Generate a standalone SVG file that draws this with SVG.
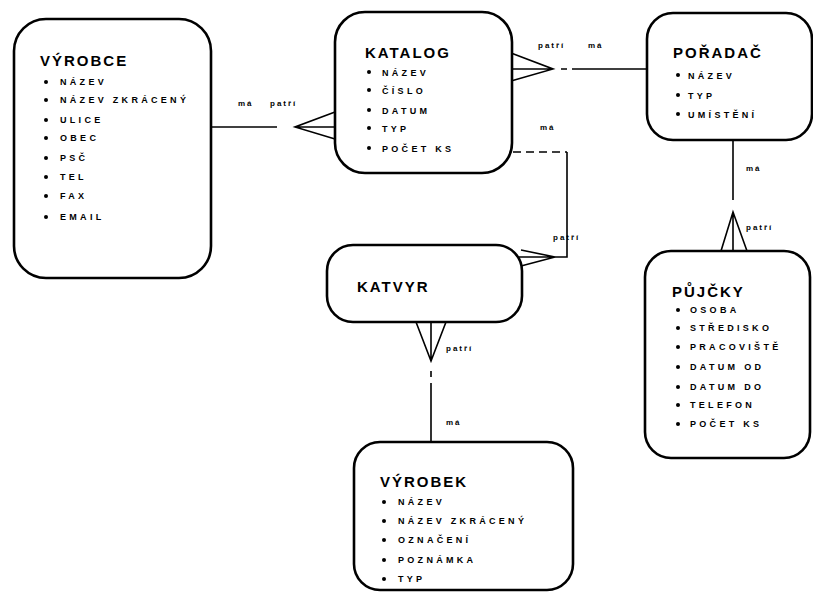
<svg xmlns="http://www.w3.org/2000/svg" xmlns:xlink="http://www.w3.org/1999/xlink" width="813" height="593" viewBox="0 0 813 593">
<style>
.box{fill:#fff;stroke:#000;stroke-width:2.6}
.ln{fill:none;stroke:#000;stroke-width:1.6}
.dash{fill:none;stroke:#000;stroke-width:1.6;stroke-dasharray:8 5}
.title{font-family:"Liberation Sans",Arial,sans-serif;font-weight:bold;font-size:15px;letter-spacing:2px;fill:#000}
.item{font-family:"Liberation Sans",Arial,sans-serif;font-weight:bold;font-size:9px;letter-spacing:3.3px;fill:#000}
.lbl{font-family:"Liberation Sans",Arial,sans-serif;font-weight:bold;font-size:8px;letter-spacing:2px;fill:#000}
</style>
<defs>
<circle id="b" r="2" fill="#000"/>
</defs>
<rect width="813" height="593" fill="#fff"/>
<g id="connectors">
<!-- VYROBCE - KATALOG -->
<line class="ln" x1="211" y1="127" x2="277" y2="127"/>
<path class="ln" d="M335,112 L295,127 L335,139 M295,127 L335,127"/>
<text class="lbl" x="238" y="106">má</text>
<text class="lbl" x="270" y="106">patří</text>
<!-- KATALOG - PORADAC -->
<path class="ln" d="M511,53 L553,69 L511,81 M511,69 L553,69"/>
<path class="ln" d="M561,69 L567,69 M572,69 L647,69"/>
<text class="lbl" x="538" y="48">patří</text>
<text class="lbl" x="588" y="48">má</text>
<!-- KATALOG - KATVYR -->
<path class="dash" d="M513,152 L567,152"/>
<path class="ln" d="M567,152 L567,257 L555,257"/>
<path class="ln" d="M521,250 L555,257 L521,266 M519,257 L555,257"/>
<text class="lbl" x="540" y="130">má</text>
<text class="lbl" x="553" y="240">patří</text>
<!-- KATVYR - VYROBEK -->
<path class="ln" d="M416,322 L431,361 L446,322 M431,322 L431,361"/>
<path class="ln" d="M431,371 L431,377 M431,383 L431,442"/>
<text class="lbl" x="446" y="351">patří</text>
<text class="lbl" x="446" y="425">má</text>
<!-- PORADAC - PUJCKY -->
<path class="ln" d="M733,140 L733,200"/>
<path class="ln" d="M721,251 L733,212 L747,251 M733,212 L733,251"/>
<text class="lbl" x="746" y="171">má</text>
<text class="lbl" x="746" y="230">patří</text>
</g>
<g id="vyrobce">
<rect class="box" x="14" y="19" width="197" height="259" rx="32"/>
<text class="title" x="40" y="66">VÝROBCE</text>
<use xlink:href="#b" x="46" y="82"/><text class="item" x="60" y="85">NÁZEV</text>
<use xlink:href="#b" x="46" y="100"/><text class="item" x="60" y="103">NÁZEV ZKRÁCENÝ</text>
<use xlink:href="#b" x="46" y="120"/><text class="item" x="60" y="123">ULICE</text>
<use xlink:href="#b" x="46" y="138"/><text class="item" x="60" y="141">OBEC</text>
<use xlink:href="#b" x="46" y="158"/><text class="item" x="60" y="161">PSČ</text>
<use xlink:href="#b" x="46" y="177"/><text class="item" x="60" y="180">TEL</text>
<use xlink:href="#b" x="46" y="196"/><text class="item" x="60" y="199">FAX</text>
<use xlink:href="#b" x="46" y="217"/><text class="item" x="60" y="220">EMAIL</text>
</g>
<g id="katalog">
<rect class="box" x="335" y="12" width="177" height="161" rx="30"/>
<text class="title" x="365" y="58">KATALOG</text>
<use xlink:href="#b" x="369" y="72"/><text class="item" x="382" y="76">NÁZEV</text>
<use xlink:href="#b" x="369" y="90"/><text class="item" x="382" y="94">ČÍSLO</text>
<use xlink:href="#b" x="369" y="110"/><text class="item" x="382" y="114">DATUM</text>
<use xlink:href="#b" x="369" y="128"/><text class="item" x="382" y="132">TYP</text>
<use xlink:href="#b" x="369" y="148"/><text class="item" x="382" y="152">POČET KS</text>
</g>
<g id="poradac">
<rect class="box" x="647" y="13" width="165" height="127" rx="26"/>
<text class="title" x="673" y="58">POŘADAČ</text>
<use xlink:href="#b" x="678" y="75"/><text class="item" x="688" y="79">NÁZEV</text>
<use xlink:href="#b" x="678" y="95"/><text class="item" x="688" y="99">TYP</text>
<use xlink:href="#b" x="678" y="114"/><text class="item" x="688" y="118">UMÍSTĚNÍ</text>
</g>
<g id="katvyr">
<rect class="box" x="327" y="245" width="195" height="77" rx="26"/>
<text class="title" x="357" y="292">KATVYR</text>
</g>
<g id="pujcky">
<rect class="box" x="645" y="251" width="165" height="207" rx="26"/>
<text class="title" x="672" y="297">PŮJČKY</text>
<use xlink:href="#b" x="678" y="310"/><text class="item" x="690" y="313">OSOBA</text>
<use xlink:href="#b" x="678" y="328"/><text class="item" x="690" y="331">STŘEDISKO</text>
<use xlink:href="#b" x="678" y="347"/><text class="item" x="690" y="350">PRACOVIŠTĚ</text>
<use xlink:href="#b" x="678" y="367"/><text class="item" x="690" y="370">DATUM OD</text>
<use xlink:href="#b" x="678" y="387"/><text class="item" x="690" y="390">DATUM DO</text>
<use xlink:href="#b" x="678" y="405"/><text class="item" x="690" y="408">TELEFON</text>
<use xlink:href="#b" x="678" y="424"/><text class="item" x="690" y="427">POČET KS</text>
</g>
<g id="vyrobek">
<rect class="box" x="354" y="442" width="219" height="148" rx="26"/>
<text class="title" x="380" y="487">VÝROBEK</text>
<use xlink:href="#b" x="384" y="502"/><text class="item" x="398" y="505">NÁZEV</text>
<use xlink:href="#b" x="384" y="521"/><text class="item" x="398" y="524">NÁZEV ZKRÁCENÝ</text>
<use xlink:href="#b" x="384" y="540"/><text class="item" x="398" y="543">OZNAČENÍ</text>
<use xlink:href="#b" x="384" y="560"/><text class="item" x="398" y="563">POZNÁMKA</text>
<use xlink:href="#b" x="384" y="579"/><text class="item" x="398" y="582">TYP</text>
</g>
</svg>
